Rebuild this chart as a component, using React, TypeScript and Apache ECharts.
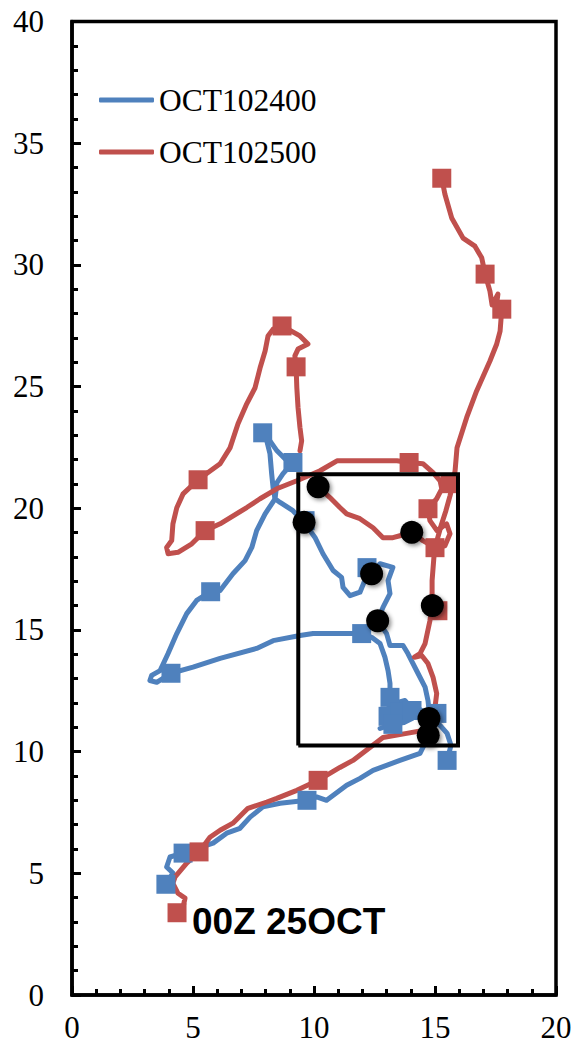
import React, { useEffect, useRef } from "react";
import * as echarts from "echarts";

const BLUE = "#4F81BD";
const RED = "#C0504D";

const xTicks = { min: 0, max: 20, interval: 5 };
const yTicks = { min: 0, max: 40, interval: 5 };

const legendNames = ["OCT102400", "OCT102500"];
const annotation = "00Z 25OCT";

// OCT102400 (blue) tracks
const blueTrack1: number[][] = [
  [7.88, 23.1], [8.05, 22.77], [8.18, 22.24], [8.25, 21.42], [8.31, 20.84], [8.39, 20.39],
  [7.98, 19.77], [7.63, 19.08], [7.43, 18.39], [7.15, 17.85], [6.65, 17.31], [6.12, 16.62],
  [5.73, 16.57], [5.15, 16.21], [4.74, 15.67], [4.33, 14.85], [3.97, 14.03], [3.64, 13.33],
  [3.29, 13.13], [3.22, 12.92], [3.5, 12.85], [4.09, 13.22], [5.0, 13.47], [6.12, 13.83],
  [7.63, 14.24], [8.31, 14.56], [9.42, 14.77], [9.96, 14.85], [11.07, 14.85], [11.97, 14.85],
  [12.38, 14.7], [12.73, 14.44], [12.93, 13.88], [13.06, 13.33], [13.14, 12.8], [13.14, 12.23],
  [13.06, 11.45],
];
const blueTrack2: number[][] = [
  [7.88, 23.1], [8.18, 22.77], [8.47, 22.36], [8.8, 22.03], [9.13, 21.88], [8.72, 21.42],
  [8.47, 21.05], [8.39, 20.39], [8.6, 20.24], [9.13, 19.9], [9.59, 19.42], [10.04, 18.8],
  [10.37, 18.13], [10.79, 17.44], [11.14, 17.16], [11.2, 16.75], [11.49, 16.41], [11.9, 16.55],
  [12.18, 17.23], [12.38, 17.31], [12.73, 17.72], [13.26, 17.57], [13.06, 17.03], [13.14, 16.49],
  [12.85, 15.93], [12.63, 15.38], [13.0, 14.85], [13.14, 14.36], [13.68, 14.36], [13.88, 14.03],
  [14.3, 13.21], [14.59, 12.65], [14.71, 12.1], [14.79, 11.36], [15.21, 11.08], [15.5, 10.75],
  [15.66, 10.26], [15.5, 9.64],
];
const blueTrack3: number[][] = [
  [14.79, 10.75], [14.38, 9.93], [13.55, 9.64], [12.44, 9.23], [11.9, 8.9], [11.35, 8.62],
  [10.52, 8.0], [10.11, 8.14], [9.71, 8.0], [8.6, 7.88], [7.89, 7.73], [7.36, 7.31],
  [6.94, 6.85], [6.39, 6.65], [5.83, 6.24], [4.59, 5.83], [4.05, 5.67], [3.91, 5.26],
  [4.17, 5.01], [3.88, 4.55],
];
const blueTrack4: number[][] = [
  [13.14, 12.23], [13.47, 12.02], [13.76, 12.1], [13.97, 11.86], [14.3, 11.77], [14.59, 11.61], [14.88, 11.53],
];
const blueTrack5: number[][] = [
  [12.73, 10.95], [13.22, 11.12], [13.72, 11.2], [14.05, 11.36],
];
const blueSquares: number[][] = [
  [7.88, 23.1], [9.13, 21.88], [5.73, 16.57], [4.09, 13.22], [11.97, 14.85], [13.14, 12.23],
  [13.06, 11.45], [13.55, 11.61], [14.05, 11.69], [13.26, 11.12], [9.63, 19.49], [12.19, 17.56],
  [15.08, 11.57], [15.5, 9.64], [9.71, 8.0], [4.59, 5.83], [3.88, 4.55],
];

// OCT102500 (red) tracks
const redTrack1: number[][] = [
  [15.28, 33.56], [15.41, 32.9], [15.69, 31.93], [16.16, 31.1], [16.65, 30.77], [16.93, 30.29],
  [17.07, 29.62], [17.27, 28.92], [17.36, 28.35], [17.6, 28.8], [17.56, 28.51], [17.76, 28.18],
  [17.69, 27.28], [17.55, 26.75], [17.27, 26.05], [16.72, 24.82], [16.31, 23.73], [15.91, 22.49],
  [15.83, 21.54], [15.74, 21.01], [15.62, 20.51], [15.45, 19.9], [15.25, 19.28], [15.08, 18.67],
  [14.96, 18.05], [14.88, 17.03], [14.88, 16.0], [14.79, 15.38], [14.59, 14.44], [14.38, 14.03],
  [14.15, 13.88], [14.45, 13.95], [14.71, 13.62], [14.92, 13.05], [15.07, 12.39], [15.0, 11.82],
  [14.79, 11.28], [14.5, 10.87], [13.83, 10.75], [12.85, 10.58], [12.31, 10.17], [11.61, 9.64],
  [11.07, 9.35], [10.17, 8.82], [9.29, 8.41], [8.46, 8.08], [8.05, 7.93], [7.27, 7.67],
  [6.65, 7.06], [6.12, 6.77], [5.7, 6.48], [5.25, 5.88], [4.74, 5.42], [4.26, 4.85],
  [4.17, 4.59], [4.38, 4.18], [4.67, 3.98], [4.59, 3.61], [4.34, 3.38],
];
const redTrack2: number[][] = [
  [9.42, 22.36], [9.49, 22.77], [9.42, 23.32], [9.34, 24.14], [9.29, 24.96], [9.26, 25.81],
  [9.21, 26.26], [9.34, 26.54], [9.75, 26.75], [9.42, 27.08], [8.68, 27.49], [8.31, 27.36],
  [8.1, 27.08], [7.98, 26.46], [7.77, 25.76], [7.56, 24.94], [7.22, 24.29], [6.86, 23.47],
  [6.53, 22.48], [6.12, 21.83], [5.21, 21.17], [4.59, 20.59], [4.33, 20.02], [4.17, 19.36],
  [4.12, 18.67], [3.91, 18.39], [3.97, 18.13], [4.38, 18.19], [4.95, 18.54], [5.5, 19.08],
  [6.12, 19.36], [7.22, 20.03], [7.77, 20.39], [8.46, 20.8], [9.29, 21.13], [10.25, 21.54],
  [10.95, 21.95], [12.19, 21.95], [13.43, 21.95], [13.93, 21.88], [14.5, 21.83], [14.92, 21.46],
  [15.21, 21.13], [15.28, 20.8], [15.07, 20.39], [14.71, 19.98], [14.79, 19.49], [15.08, 19.08],
  [15.48, 19.36], [15.62, 18.95], [15.41, 18.46], [15.0, 18.38],
];
const redTrack3: number[][] = [
  [10.17, 20.88], [10.66, 20.44], [11.07, 20.03], [11.35, 19.77], [11.9, 19.57], [12.44, 19.2],
  [12.85, 18.79], [13.26, 18.79], [13.55, 18.87], [14.04, 19.01], [14.5, 18.67], [15.0, 18.38],
];
const redSquares: number[][] = [
  [15.28, 33.56], [17.07, 29.62], [17.76, 28.18], [8.68, 27.49], [9.26, 25.81], [5.21, 21.17],
  [5.5, 19.08], [13.93, 21.88], [15.62, 21.01], [14.71, 19.98], [15.0, 18.38], [15.12, 15.79],
  [10.17, 8.82], [5.25, 5.88], [4.34, 3.38],
];

// 00Z 25OCT positions
const dots: number[][] = [
  [10.17, 20.88], [9.59, 19.42], [12.38, 17.31], [12.63, 15.38], [14.04, 19.01], [14.89, 16.0],
  [14.75, 11.36], [14.72, 10.67],
];

// Highlight box corners
const boxX = [9.35, 15.95, 15.95, 9.35, 9.35];
const boxY = [10.25, 10.25, 21.4, 21.4, 10.25];

export default function App() {
  const ref = useRef<HTMLDivElement>(null);
  useEffect(() => {
    if (!ref.current) return;
    const chart = echarts.init(ref.current, null, { renderer: "svg" });
    const line = (name: string, data: number[][], color: string) => ({
      type: "line",
      name,
      data,
      symbol: "none",
      silent: true,
      z: 2,
      itemStyle: { color },
      lineStyle: { color, width: 5, cap: "round", join: "round" },
    });
    const axisCommon = {
      type: "value",
      axisLine: { show: true, lineStyle: { color: "#000", width: 3.5 } },
      axisTick: { show: true, inside: true, length: 9, lineStyle: { color: "#000", width: 3 } },
      minorTick: { show: true, splitNumber: 5, length: 6, lineStyle: { color: "#000", width: 3 } },
      splitLine: { show: false },
    };
    chart.setOption({
      animation: false,
      grid: {
        left: 72,
        right: 19,
        top: 21.5,
        bottom: 55,
        show: true,
        borderColor: "#000",
        borderWidth: 3.5,
      },
      legend: {
        data: legendNames,
        orient: "vertical",
        left: 94,
        top: 79,
        icon: "roundRect",
        itemWidth: 55,
        itemHeight: 5,
        itemGap: 20,
        selectedMode: false,
        textStyle: { fontFamily: "Liberation Serif", fontSize: 31.5, color: "#000" },
      },
      xAxis: {
        ...axisCommon,
        min: xTicks.min,
        max: xTicks.max,
        interval: xTicks.interval,
        axisLabel: { color: "#000", fontFamily: "Liberation Serif", fontSize: 31, margin: 17 },
      },
      yAxis: {
        ...axisCommon,
        min: yTicks.min,
        max: yTicks.max,
        interval: yTicks.interval,
        axisLabel: { color: "#000", fontFamily: "Liberation Serif", fontSize: 31, margin: 28 },
      },
      graphic: [
        {
          type: "text",
          left: 192,
          top: 903,
          style: { text: annotation, font: 'bold 37px "Liberation Sans"', fill: "#000" },
        },
      ],
      series: [
        line(legendNames[0], blueTrack1, BLUE),
        line(legendNames[0], blueTrack2, BLUE),
        line(legendNames[0], blueTrack3, BLUE),
        line(legendNames[0], blueTrack4, BLUE),
        line(legendNames[0], blueTrack5, BLUE),
        line(legendNames[1], redTrack1, RED),
        line(legendNames[1], redTrack2, RED),
        line(legendNames[1], redTrack3, RED),
        {
          type: "scatter",
          name: legendNames[0],
          data: blueSquares,
          symbol: "rect",
          symbolSize: 19,
          z: 3,
          itemStyle: { color: BLUE, opacity: 1 },
        },
        {
          type: "scatter",
          name: legendNames[1],
          data: redSquares,
          symbol: "rect",
          symbolSize: 19,
          z: 3,
          itemStyle: { color: RED, opacity: 1 },
        },
        {
          type: "line",
          name: "box",
          data: boxX.map((x, i) => [x, boxY[i]]),
          symbol: "none",
          z: 4,
          lineStyle: { color: "#000", width: 4, join: "miter" },
          itemStyle: { color: "#000" },
        },
        {
          type: "scatter",
          name: "dots",
          data: dots,
          symbol: "circle",
          symbolSize: 23,
          z: 5,
          itemStyle: {
            color: "#000",
            opacity: 1,
            shadowBlur: 4,
            shadowColor: "rgba(0,0,0,0.45)",
            shadowOffsetX: 2,
            shadowOffsetY: 2,
          },
        },
      ],
    });
    return () => chart.dispose();
  }, []);
  return (
    <div
      ref={ref}
      style={{ position: "absolute", left: 0, top: 0, width: 575, height: 1050, background: "#fff" }}
    />
  );
}
